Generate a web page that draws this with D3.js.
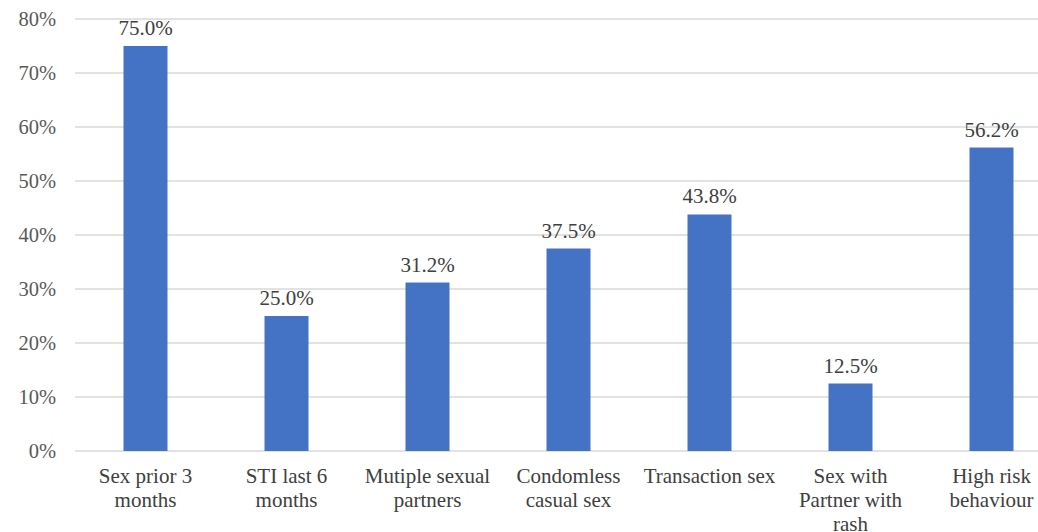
<!DOCTYPE html>
<html>
<head>
<meta charset="utf-8">
<script src="https://cdn.jsdelivr.net/npm/d3@7"></script>
<style>
html,body{margin:0;padding:0;background:#fff;overflow:hidden;}
text{font-family:"Liberation Serif","Times New Roman",serif;}
</style>
</head>
<body>
<svg id="chart" width="1038" height="532"></svg>
<script>
const categories = [
  ["Sex prior 3", "months"],
  ["STI last 6", "months"],
  ["Mutiple sexual", "partners"],
  ["Condomless", "casual sex"],
  ["Transaction sex"],
  ["Sex with", "Partner with", "rash"],
  ["High risk", "behaviour"]
];
const values = [75.0, 25.0, 31.2, 37.5, 43.8, 12.5, 56.2];
const yTicks = [0, 10, 20, 30, 40, 50, 60, 70, 80];

const svg = d3.select("#chart");
const keys = categories.map((c, i) => i);
const x = d3.scaleBand().domain(keys).range([75, 1062]).padding(0);
const y = d3.scaleLinear().domain([0, 80]).range([451, 19]);
const barW = 44;

// gridlines
svg.append("g").selectAll("line").data(yTicks).join("line")
  .attr("x1", 75).attr("x2", 1038)
  .attr("y1", d => y(d)).attr("y2", d => y(d))
  .attr("stroke", "#d9d9d9").attr("stroke-width", 1.3);

// y axis labels
const yAxis = d3.axisLeft(y).tickValues(yTicks).tickFormat(d => d + "%").tickSize(0).tickPadding(0);
const yg = svg.append("g").attr("transform", "translate(56,0)").call(yAxis);
yg.select(".domain").remove();
yg.selectAll("text").attr("font-size", 20.5).attr("fill", "#595959")
  .attr("font-family", "Liberation Serif, serif");

// bars
svg.append("g").selectAll("rect").data(values).join("rect")
  .attr("x", (d, i) => x(i) + x.bandwidth() / 2 - barW / 2)
  .attr("width", barW)
  .attr("y", d => y(d))
  .attr("height", d => y(0) - y(d))
  .attr("fill", "#4472c4");

// value labels
svg.append("g").selectAll("text").data(values).join("text")
  .attr("x", (d, i) => x(i) + x.bandwidth() / 2)
  .attr("y", d => y(d) - 11)
  .attr("text-anchor", "middle")
  .attr("font-size", 21)
  .attr("fill", "#404040")
  .text(d => d.toFixed(1) + "%");

// category labels
const cg = svg.append("g");
categories.forEach((lines, i) => {
  const t = cg.append("text")
    .attr("x", x(i) + x.bandwidth() / 2)
    .attr("y", 483)
    .attr("text-anchor", "middle")
    .attr("font-size", 21)
    .attr("fill", "#404040");
  lines.forEach((ln, j) => {
    t.append("tspan").attr("x", x(i) + x.bandwidth() / 2).attr("dy", j === 0 ? 0 : 24).text(ln);
  });
});
</script>
</body>
</html>
